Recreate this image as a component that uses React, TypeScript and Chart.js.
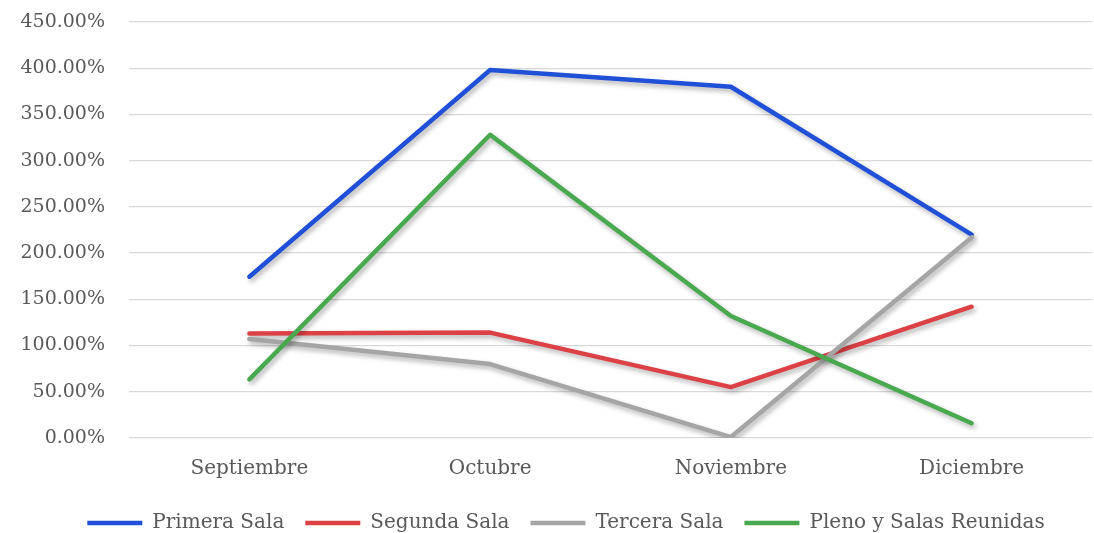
import { useEffect, useRef } from 'react';
import Chart from 'chart.js/auto';

const months = ['Septiembre', 'Octubre', 'Noviembre', 'Diciembre'];
const primeraSala = [174.5, 398, 380, 220];
const segundaSala = [113, 114, 55, 142];
const terceraSala = [107, 80, 1, 217];
const plenoSalas = [63.5, 328, 132, 16];

const textColor = '#595959';
const fontFamily = '"DejaVu Serif", serif';

// Excel-like soft drop shadow under each line
const shadowPlugin = {
  id: 'lineShadow',
  beforeDatasetDraw(chart: Chart) {
    const ctx = chart.ctx;
    ctx.save();
    ctx.shadowColor = 'rgba(0, 0, 0, 0.3)';
    ctx.shadowBlur = 5;
    ctx.shadowOffsetX = 2;
    ctx.shadowOffsetY = 3;
  },
  afterDatasetDraw(chart: Chart) {
    chart.ctx.restore();
  },
};

// the legend in the original sits a little right of the canvas centre
const legendShift = {
  id: 'legendShift',
  afterLayout(chart: Chart) {
    if (chart.legend) {
      chart.legend.left += 20;
      chart.legend.right += 20;
    }
  },
};

const makeSeries = (label: string, data: number[], color: string, order: number) => ({
  label,
  data,
  borderColor: color,
  backgroundColor: color,
  borderWidth: 4.5,
  borderCapStyle: 'round' as const,
  borderJoinStyle: 'round' as const,
  pointRadius: 0,
  pointHoverRadius: 0,
  tension: 0,
  fill: false,
  order,
});

export default function App() {
  const chartRef = useRef<HTMLCanvasElement>(null);
  const chartInstance = useRef<Chart | null>(null);

  useEffect(() => {
    document.body.style.margin = '0';
    if (!chartRef.current) return;

    if (chartInstance.current) {
      chartInstance.current.destroy();
    }

    chartInstance.current = new Chart(chartRef.current, {
      type: 'line',
      data: {
        labels: months,
        datasets: [
          makeSeries('Primera Sala', primeraSala, '#2150d8', 4),
          makeSeries('Segunda Sala', segundaSala, '#dc4146', 3),
          makeSeries('Tercera Sala', terceraSala, '#a5a5a5', 2),
          makeSeries('Pleno y Salas Reunidas', plenoSalas, '#48a94f', 1),
        ],
      },
      plugins: [shadowPlugin, legendShift],
      options: {
        responsive: false,
        animation: false,
        layout: {
          padding: { top: 22, left: 0, right: 2, bottom: -10 },
        },
        plugins: {
          tooltip: { enabled: false },
          legend: {
            position: 'bottom',
            labels: {
              color: textColor,
              font: { family: fontFamily, size: 20 },
              usePointStyle: true,
              pointStyle: 'line',
              pointStyleWidth: 55,
              boxHeight: 20,
              padding: 21,
              sort: (a, b) => (a.datasetIndex ?? 0) - (b.datasetIndex ?? 0),
            },
          },
        },
        scales: {
          y: {
            min: 0,
            max: 450,
            border: { display: false },
            grid: {
              color: '#d9d9d9',
              lineWidth: 1.3,
              drawTicks: true,
              tickLength: 24,
              tickColor: 'rgba(0, 0, 0, 0)',
            },
            afterFit: (axis) => {
              axis.width = 129;
            },
            ticks: {
              stepSize: 50,
              color: textColor,
              padding: 0,
              font: { family: fontFamily, size: 19 },
              callback: (value) => `${Number(value).toFixed(2)}%`,
            },
          },
          x: {
            offset: true,
            border: { display: false },
            grid: { display: false },
            ticks: {
              color: textColor,
              padding: 11,
              font: { family: fontFamily, size: 20 },
            },
          },
        },
      },
    });

    return () => {
      if (chartInstance.current) {
        chartInstance.current.destroy();
        chartInstance.current = null;
      }
    };
  }, []);

  return (
    <div style={{ width: 1094, height: 533 }}>
      <canvas ref={chartRef} width={1094} height={533} />
    </div>
  );
}
